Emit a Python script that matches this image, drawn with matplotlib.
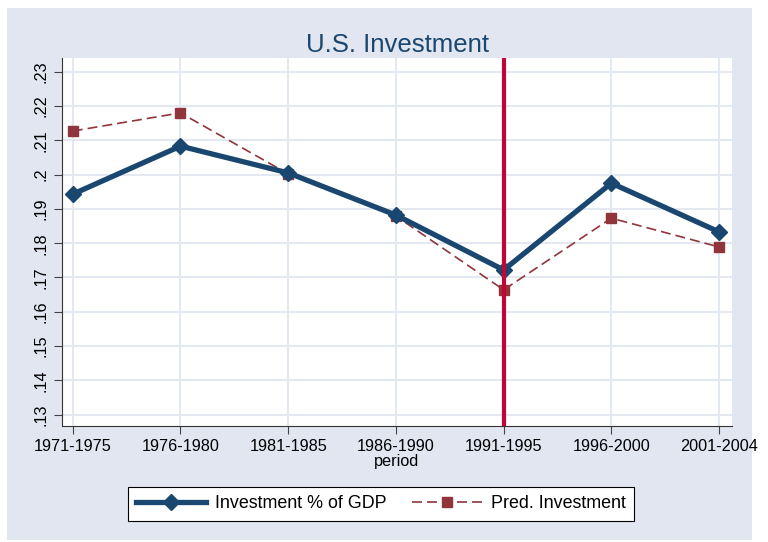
import matplotlib.pyplot as plt
from matplotlib.patches import Rectangle

plt.rcParams['font.family'] = ['Liberation Sans', 'DejaVu Sans']

periods = ['1971-1975', '1976-1980', '1981-1985', '1986-1990',
           '1991-1995', '1996-2000', '2001-2004']
investment = [0.1943, 0.2083, 0.2005, 0.1882, 0.1722, 0.1975, 0.1833]
pred_investment = [0.2127, 0.2180, 0.2002, 0.1879, 0.1664, 0.1873, 0.1789]
yticks = [0.13, 0.14, 0.15, 0.16, 0.17, 0.18, 0.19, 0.20, 0.21, 0.22, 0.23]
ytick_labels = ['.13', '.14', '.15', '.16', '.17', '.18', '.19', '.2', '.21', '.22', '.23']
marked_period = '1991-1995'

fig = plt.figure(figsize=(7.68, 5.42), dpi=100)
fig.patch.set_facecolor('white')
# light blue-grey graph region with a thin white margin
fig.patches.append(Rectangle((7 / 768, 2 / 542), 745 / 768, 532 / 542,
                             transform=fig.transFigure, facecolor='#e1e6f0',
                             edgecolor='none', zorder=-5))

ax = fig.add_axes([62 / 768, 1 - 426 / 542, 670 / 768, 368 / 542])
ax.set_facecolor('white')

x = list(range(len(periods)))
ax.plot(x, investment, color='#1a476f', lw=3.8, marker='D', ms=8,
        label='Investment % of GDP', zorder=4)
ax.plot(x, pred_investment, color='#90353b', lw=1.2, ls=(0, (6, 3)),
        marker='s', ms=7, label='Pred. Investment', zorder=3)
ax.axvline(periods.index(marked_period), color='#c10534', lw=3, zorder=5)

ax.set_xlim(-0.1, 6.12)
ax.set_ylim(0.1267, 0.234)
ax.set_xticks(x)
ax.set_xticklabels(periods, fontsize=11.7)
ax.set_yticks(yticks)
ax.set_yticklabels(ytick_labels, fontsize=11.7, rotation=90, va='center')
ax.grid(True, color='#e4e8f0', lw=1.5)
ax.set_axisbelow(True)
for s in ['top', 'right']:
    ax.spines[s].set_visible(False)
ax.spines['left'].set_color('#333333')
ax.spines['bottom'].set_color('#333333')
ax.tick_params(direction='out', length=6, color='#444444')

ax.set_xlabel('period', fontsize=11.7, labelpad=0)
ax.set_title('U.S. Investment', fontsize=18.5, color='#1a476f', pad=4)

leg = fig.legend(loc='center', bbox_to_anchor=(381 / 768, 1 - 504 / 542),
                 ncol=2, fontsize=12.9, frameon=True, fancybox=False,
                 edgecolor='black', facecolor='white', framealpha=1,
                 handlelength=3.9, handletextpad=0.5, columnspacing=1.45,
                 borderpad=0.45)
leg.get_frame().set_linewidth(0.8)

plt.savefig('out.png', dpi=100)
